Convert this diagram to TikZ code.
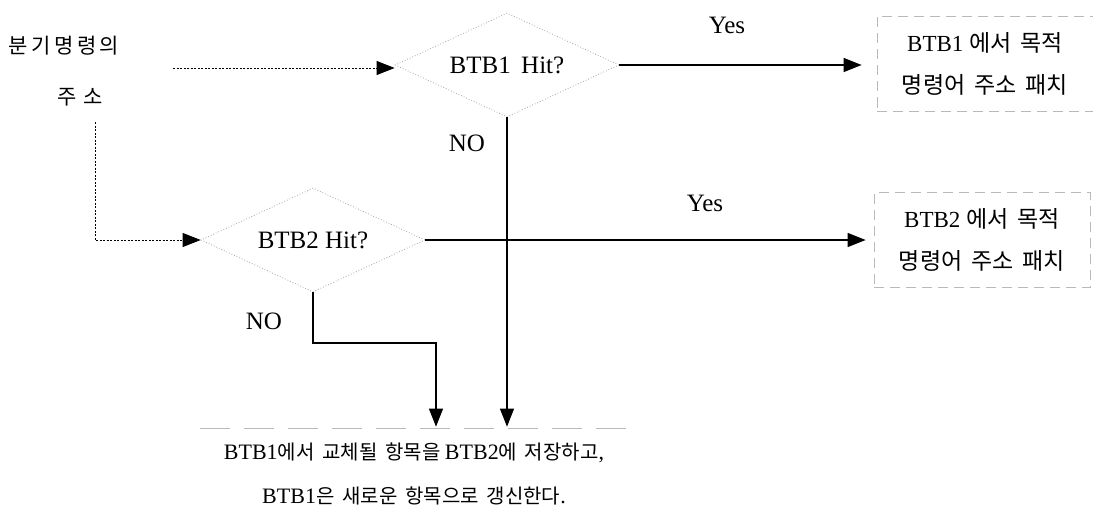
\documentclass[tikz,border=0pt]{standalone}
\usepackage{fontspec}
\setmainfont{Liberation Serif}
\newfontfamily\kr{Noto Sans CJK KR}
\usetikzlibrary{shapes.geometric,arrows.meta}
\tikzset{
  lat/.style={font=\fontsize{25}{28}\selectfont, inner sep=0pt},
  decision/.style={diamond, aspect=2.1, draw=gray!70, dotted, line width=0.8pt, inner sep=0pt, minimum width=224pt, minimum height=104pt, font=\fontsize{25}{28}\selectfont},
  target/.style={rectangle, draw=gray!55, dash pattern=on 10pt off 6pt, line width=0.7pt, minimum width=216pt, minimum height=95pt, align=center, font=\fontsize{23}{44}\selectfont},
  flow/.style={line width=1.1pt, -{Triangle[length=18pt,width=14pt]}},
  dotflow/.style={line width=0.8pt, dash pattern=on 2pt off 1.5pt, -{Triangle[length=18pt,width=14pt]}},
}
\newcommand{\K}[1]{{\kr #1}}
\newcommand{\KS}[1]{{\fontsize{20}{22}\selectfont\kr #1}}
\begin{document}
\begin{tikzpicture}[x=1pt,y=-1pt]
\useasboundingbox (0,0) rectangle (1093,511);
% source labels
\node[lat] (src1) at (64,46) {\fontsize{21}{24}\selectfont\K{분\,기\,명\,령\,의}};
\node[lat] (src2) at (80,97) {\fontsize{21}{24}\selectfont\K{주\,\,소}};
% decisions
\node[decision] (d1) at (507,65) {BTB1\, Hit?};
\node[decision] (d2) at (313,240) {BTB2 Hit?};
% targets
\node[target] (b1) at (985,64) {BTB1 \K{에서 \,목적}\\[-2pt]\K{명령어 \,주소 \,패치}};
\node[target] (b2) at (982,240) {BTB2 \K{에서 \,목적}\\[-2pt]\K{명령어 \,주소 \,패치}};
% bottom result
\node[align=center, inner sep=0pt, font=\fontsize{22}{44}\selectfont] (bot) at (414,474)
  {BTB1\KS{에서 \,교체될 \,항목을 }BTB2\KS{에 \,저장하고},\\
   BTB1\KS{은 \,새로운 \,항목으로 \,갱신한다}.};
\draw[gray!55, dash pattern=on 30pt off 14pt, line width=0.7pt] (200,428) -- (640,428);
% labels
\node[lat] (yes1) at (727,25) {Yes};
\node[lat] (yes2) at (705,203) {Yes};
\node[lat] (no1) at (467,143) {NO};
\node[lat] (no2) at (264,321) {NO};
% connectors
\coordinate (s1) at (173,68);
\coordinate (s2) at (95,122);
\coordinate (j) at (436,343);
\draw[dotflow] (s1) -- (s1 -| d1.west);
\draw[dotflow] (s2) |- (d2.west);
\draw[flow, shorten >=15pt] (d1.east) -- (d1.east -| b1.west);
\draw[flow, shorten >=8pt] (d2.east) -- (d2.east -| b2.west);
\draw[flow, shorten >=16pt] (d1.south) -- (d1.south |- bot.north);
\draw[flow, shorten >=16pt] (d2.south) |- (j) -- (j |- bot.north);
\end{tikzpicture}
\end{document}
